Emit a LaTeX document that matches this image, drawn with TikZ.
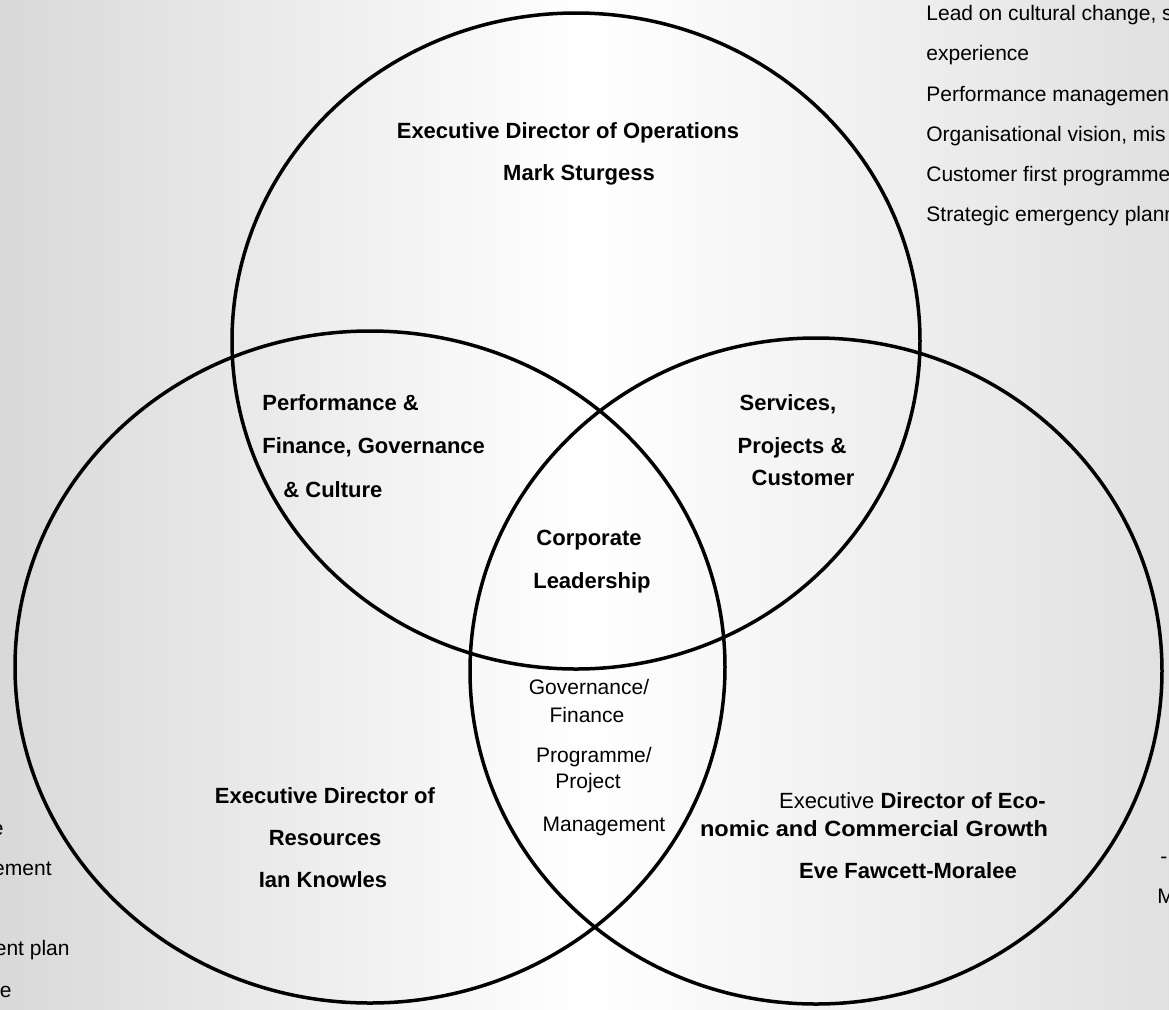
\documentclass[tikz,border=0pt]{standalone}
\usepackage{fontspec}
\setmainfont{Liberation Sans}
\tikzset{
  ring/.style={line width=1.75pt},
  bigtxt/.style={font=\fontsize{11}{13}\selectfont\bfseries, inner sep=0pt, anchor=mid},
  listtxt/.style={font=\fontsize{10.5}{13}\selectfont, inner sep=0pt, anchor=mid west},
  midtxt/.style={font=\fontsize{10.5}{12}\selectfont, inner sep=0pt, anchor=mid},
}
\begin{document}
\begin{tikzpicture}[x=0.5pt,y=-0.5pt]
\useasboundingbox (0,0) rectangle (1169,1009);
\shade[left color=black!15, right color=black!12, middle color=white] (0,0) rectangle (1169,1009);
% the three rings
\draw[ring] (576,341) ellipse [x radius=344, y radius=328];
\draw[ring] (370,667) ellipse [x radius=355, y radius=336];
\draw[ring] (816,671) ellipse [x radius=346, y radius=333];
% top ring
\node[bigtxt] (opsrole) at (568,133) {Executive Director of Operations};
\node[bigtxt] (opsname) at (579,175) {Mark Sturgess};
% overlaps
\node[bigtxt, anchor=mid west] (perf1) at (262,405) {Performance \&};
\node[bigtxt, anchor=mid west] (perf2) at (262,448) {Finance, Governance};
\node[bigtxt, anchor=mid west] (perf3) at (283,492) {\& Culture};
\node[bigtxt] (serv1) at (788,405) {Services,};
\node[bigtxt] (serv2) at (792,448) {Projects \&};
\node[bigtxt] (serv3) at (803,480) {Customer};
\node[bigtxt] (corp1) at (589,540) {Corporate};
\node[bigtxt] (corp2) at (592,583) {Leadership};
\node[midtxt] (gov1) at (589,689) {Governance/};
\node[midtxt] (gov2) at (587,717) {Finance};
\node[midtxt] (prog1) at (594,757) {Programme/};
\node[midtxt] (prog2) at (588,783) {Project};
\node[midtxt] (prog3) at (604,826) {Management};
% left ring
\node[bigtxt] (resrole) at (325,798) {Executive Director of};
\node[bigtxt] (resunit) at (325,840) {Resources};
\node[bigtxt] (resname) at (323,882) {Ian Knowles};
% right ring
\node[bigtxt, anchor=mid east] (ecorole) at (1046,803) {\mdseries Executive \bfseries Director of Eco-};
\node[bigtxt] (ecounit) at (874,831) {\scalebox{1.07}[1]{nomic and Commercial Growth}};
\node[bigtxt] (econame) at (908,873) {Eve Fawcett-Moralee};
% list, top right
\node[listtxt] (duty1) at (926,15) {Lead on cultural change, s};
\node[listtxt] (duty2) at (926,55) {experience};
\node[listtxt] (duty3) at (926,96) {Performance managemen};
\node[listtxt] (duty4) at (926,136) {Organisational vision, mis};
\node[listtxt] (duty5) at (926,176) {Customer first programme};
\node[listtxt] (duty6) at (926,216) {Strategic emergency plann};
% cut-off text at the edges
\node[listtxt, anchor=mid east] (left1) at (4,830) {e};
\node[listtxt, anchor=mid east] (left2) at (52,870) {ement};
\node[listtxt, anchor=mid east] (left3) at (70,950) {ent plan};
\node[listtxt, anchor=mid east] (left4) at (12,992) {e};
\node[listtxt] (right1) at (1160,858) {-};
\node[listtxt] (right2) at (1157,898) {M};
\end{tikzpicture}
\end{document}
